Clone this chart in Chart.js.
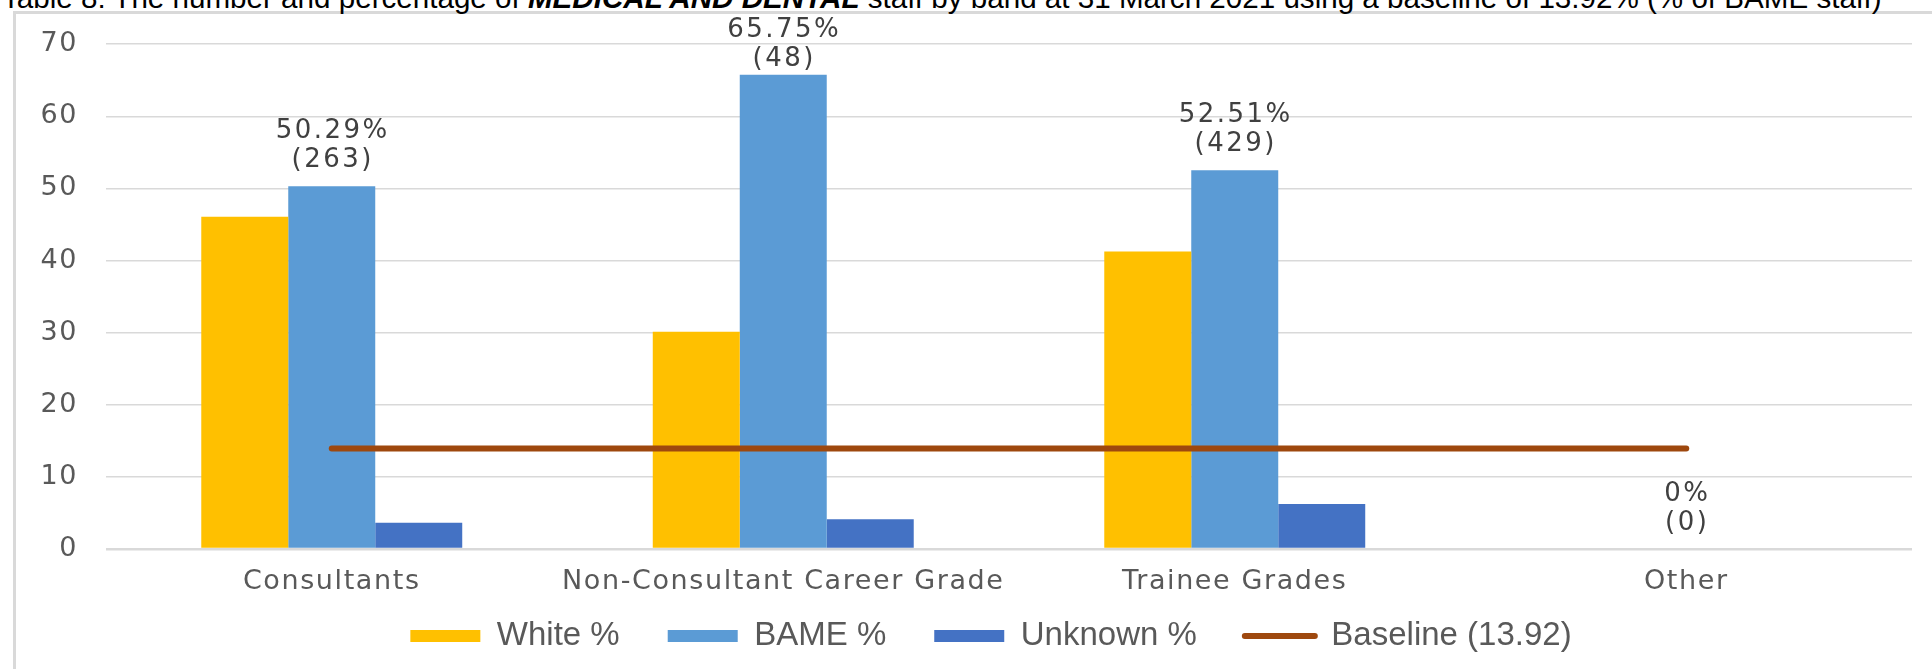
<!DOCTYPE html>
<html>
<head>
<meta charset="utf-8">
<script src="https://cdn.jsdelivr.net/npm/chart.js@4/dist/chart.umd.min.js"></script>
<style>
  html, body { margin: 0; padding: 0; background: #ffffff; }
  body { width: 1932px; height: 669px; position: relative; overflow: hidden; }
  #frame { position: absolute; left: 13px; top: 11px; right: -10px; bottom: -10px;
           border-left: 3px solid #d9d9d9; border-top: 3px solid #d9d9d9; }
  #title { position: absolute; left: 2px; top: -16px; white-space: nowrap; display: inline-block;
           font-family: "Liberation Sans", Arial, sans-serif; font-size: 27px; line-height: 27px; color: #000; }
  #title b { font-style: italic; }
  #c { position: absolute; left: 0; top: 0; }
</style>
</head>
<body>
<div id="frame"></div>
<div id="title">Table 8: The number and percentage of <b>MEDICAL AND DENTAL</b> staff by band at 31 March 2021 using a baseline of 13.92% (% of BAME staff)</div>
<canvas id="c" width="1932" height="669"></canvas>
<script>
// ---- data ----
const categories = ["Consultants", "Non-Consultant Career Grade", "Trainee Grades", "Other"];
const whitePct   = [46.08, 30.14, 41.25, 0];
const bamePct    = [50.29, 65.75, 52.51, 0];
const unknownPct = [3.63, 4.11, 6.24, 0];
const bameCounts = [263, 48, 429, 0];
const baselineValue = 13.92;
const baselineSeries = [baselineValue, baselineValue, baselineValue, baselineValue];
const yTicks = [0, 10, 20, 30, 40, 50, 60, 70];

// ---- fit title width ----
(function () {
  const t = document.getElementById('title');
  const target = 1880;
  const w = t.getBoundingClientRect().width;
  t.style.fontSize = (27 * target / w).toFixed(2) + 'px';
})();

const SPACING = '1.6px';
const LABEL_SPACING = '2.5px';
const LEGEND_PAD = 48;
const LEGEND_H = 68;
const LEGEND_CENTER_Y = 636;
const LEGEND_SHIFT_X = 35;
const LABEL_MIN_Y = 30;
const tickFont = { family: 'DejaVu Sans', size: 27 };

const spacingPlugin = {
  id: 'spacing',
  afterInit(chart) {
    const lg = chart.legend;
    if (lg) {
      const origFit = lg.fit.bind(lg);
      lg.fit = function () {
        const c = chart.ctx; const s = c.letterSpacing; c.letterSpacing = '0px';
        origFit(); lg.height = LEGEND_H; c.letterSpacing = s;
      };
      lg.draw = function () {
        if (!lg.options.display) return;
        const c = chart.ctx; const s = c.letterSpacing;
        c.save();
        c.letterSpacing = '0px';
        const dy = LEGEND_CENTER_Y - (lg.top + LEGEND_PAD + 33 / 2);
        c.translate(LEGEND_SHIFT_X, dy);
        lg._draw();
        c.restore();
        c.letterSpacing = s;
      };
    }
  },
  beforeUpdate(chart) { chart.ctx.letterSpacing = SPACING; },
  beforeLayout(chart) { chart.ctx.letterSpacing = SPACING; },
  beforeDraw(chart) { chart.ctx.letterSpacing = SPACING; }
};

const labelPlugin = {
  id: 'bameLabels',
  afterDatasetsDraw(chart) {
    const meta = chart.getDatasetMeta(1);
    const ctx = chart.ctx;
    ctx.save();
    ctx.letterSpacing = LABEL_SPACING;
    ctx.font = '26px "DejaVu Sans"';
    ctx.fillStyle = '#404040';
    ctx.textAlign = 'center';
    ctx.textBaseline = 'middle';
    meta.data.forEach((el, i) => {
      const yTop = Math.max(el.y - 55, LABEL_MIN_Y);
      ctx.fillText(bamePct[i] + '%', el.x + 1, yTop);
      ctx.fillText('(' + bameCounts[i] + ')', el.x + 1, yTop + 29);
    });
    ctx.restore();
  }
};

new Chart(document.getElementById('c'), {
  data: {
    labels: categories,
    datasets: [
      { type: 'bar', label: 'White %', data: whitePct, backgroundColor: '#FFC000', borderWidth: 0, order: 0 },
      { type: 'bar', label: 'BAME %', data: bamePct, backgroundColor: '#5B9BD5', borderWidth: 0, order: 0 },
      { type: 'bar', label: 'Unknown %', data: unknownPct, backgroundColor: '#4472C4', borderWidth: 0, order: 0 },
      { type: 'line', label: 'Baseline (13.92)', data: baselineSeries, borderColor: '#9E480E', backgroundColor: '#9E480E',
        borderWidth: 6, borderCapStyle: 'round', pointRadius: 0, pointHoverRadius: 0, fill: false, order: -1 }
    ]
  },
  options: {
    responsive: false,
    animation: false,
    devicePixelRatio: 1,
    datasets: { bar: { categoryPercentage: 0.578, barPercentage: 1 } },
    layout: { padding: { left: 0, right: 20, top: 42, bottom: 6 } },
    plugins: {
      tooltip: { enabled: false },
      legend: {
        position: 'bottom',
        labels: {
          usePointStyle: true,
          pointStyleWidth: 70,
          boxHeight: 12,
          padding: LEGEND_PAD,
          color: '#595959',
          font: { family: 'Liberation Sans', size: 33 },
          sort: (a, b) => a.datasetIndex - b.datasetIndex,
          generateLabels(chart) {
            const items = Chart.defaults.plugins.legend.labels.generateLabels(chart);
            items.forEach(it => {
              const ds = chart.data.datasets[it.datasetIndex];
              it.pointStyle = ds.type === 'line' ? 'line' : 'rect';
              if (ds.type === 'line') { it.lineWidth = 6; it.lineCap = 'round'; it.strokeStyle = '#9E480E'; }
              else { it.lineWidth = 0; }
            });
            return items;
          }
        }
      }
    },
    scales: {
      x: {
        grid: { display: false },
        border: { display: false },
        ticks: { color: '#595959', font: tickFont, padding: 9, maxRotation: 0, minRotation: 0, autoSkip: false },
        afterFit(scale) { scale.height = 46; }
      },
      y: {
        min: 0, max: 70,
        afterBuildTicks(scale) { scale.ticks = yTicks.map(v => ({ value: v })); },
        grid: { color: '#d9d9d9', lineWidth: ctx => (ctx.tick && ctx.tick.value === 0 ? 2.5 : 1.5), drawTicks: false },
        border: { display: false },
        ticks: { color: '#595959', font: tickFont, padding: 28 },
        afterFit(scale) { scale.width = 106; }
      }
    }
  },
  plugins: [spacingPlugin, labelPlugin]
});
</script>
</body>
</html>
